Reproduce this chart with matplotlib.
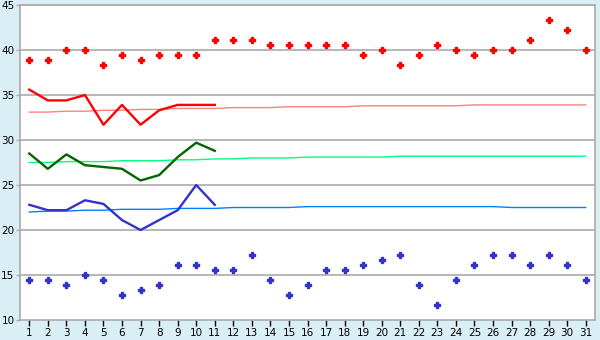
import numpy as np
import matplotlib.pyplot as plt

# Data
days = list(range(1, 32))
record_high = [38.9, 38.9, 40.0, 40.0, 38.3, 39.4, 38.9, 39.4, 39.4, 39.4,
               41.1, 41.1, 41.1, 40.6, 40.6, 40.6, 40.6, 40.6, 39.4, 40.0,
               38.3, 39.4, 40.6, 40.0, 39.4, 40.0, 40.0, 41.1, 43.3, 42.2, 40.0]
record_low = [14.4, 14.4, 13.9, 15.0, 14.4, 12.8, 13.3, 13.9, 16.1, 16.1,
              15.6, 15.6, 17.2, 14.4, 12.8, 13.9, 15.6, 15.6, 16.1, 16.7,
              17.2, 13.9, 11.7, 14.4, 16.1, 17.2, 17.2, 16.1, 17.2, 16.1, 14.4]

obs_days = list(range(1, 12))
obs_high = [35.6, 34.4, 34.4, 35.0, 31.7, 33.9, 31.7, 33.3, 33.9, 33.9, 33.9]
obs_mean = [28.5, 26.8, 28.4, 27.2, 27.0, 26.8, 25.5, 26.1, 28.1, 29.7, 28.8]
obs_low = [22.8, 22.2, 22.2, 23.3, 22.9, 21.1, 20.0, 21.1, 22.2, 25.0, 22.8]

norm_high = [33.1, 33.1, 33.2, 33.2, 33.3, 33.3, 33.4, 33.4, 33.5, 33.5,
             33.5, 33.6, 33.6, 33.6, 33.7, 33.7, 33.7, 33.7, 33.8, 33.8,
             33.8, 33.8, 33.8, 33.8, 33.9, 33.9, 33.9, 33.9, 33.9, 33.9, 33.9]
norm_mean = [27.5, 27.5, 27.6, 27.6, 27.6, 27.7, 27.7, 27.7, 27.8, 27.8,
             27.9, 27.9, 28.0, 28.0, 28.0, 28.1, 28.1, 28.1, 28.1, 28.1,
             28.2, 28.2, 28.2, 28.2, 28.2, 28.2, 28.2, 28.2, 28.2, 28.2, 28.2]
norm_low = [22.0, 22.1, 22.1, 22.2, 22.2, 22.3, 22.3, 22.3, 22.4, 22.4,
            22.4, 22.5, 22.5, 22.5, 22.5, 22.6, 22.6, 22.6, 22.6, 22.6,
            22.6, 22.6, 22.6, 22.6, 22.6, 22.6, 22.5, 22.5, 22.5, 22.5, 22.5]

BG = "#d9eff5"
GRID = "#aaaaaa"

fig = plt.figure(figsize=(6, 3.4), dpi=100, facecolor=BG)
ax = fig.add_axes([20 / 600, 20 / 340, 575 / 600, 315 / 340])
ax.set_facecolor("white")

# horizontal grid
for y in range(15, 46, 5):
    ax.axhline(y, color=GRID, lw=1.2, zorder=0)

# normals
ax.plot(days, norm_high, color="#ff8080", lw=1.0)
ax.plot(days, norm_mean, color="#00ff80", lw=1.0)
ax.plot(days, norm_low, color="#0080ff", lw=1.0)

# observed
ax.plot(obs_days, obs_high, color="#ff0000", lw=1.7)
ax.plot(obs_days, obs_mean, color="#006600", lw=1.7)
ax.plot(obs_days, obs_low, color="#3333cc", lw=1.7)

# records
ax.plot(days, record_high, ls="none", marker="P", ms=4.5, color="#ff0000", mec="#ff0000")
ax.plot(days, record_low, ls="none", marker="P", ms=4.5, color="#3333cc", mec="#3333cc")

ax.set_xlim(0.5, 31.5)
ax.set_ylim(10, 45)
ax.set_xticks(days)
ax.set_yticks(range(10, 46, 5))
ax.tick_params(axis="x", labelsize=7.5, colors="black", length=4, width=1, pad=2)
ax.tick_params(axis="y", labelsize=7.5, labelcolor="black", color=GRID,
               length=3, width=1, pad=1)

for side in ["left", "bottom", "right", "top"]:
    ax.spines[side].set_color(GRID)
    ax.spines[side].set_linewidth(1.2)

fig.savefig("out.png", dpi=100, facecolor=BG)
